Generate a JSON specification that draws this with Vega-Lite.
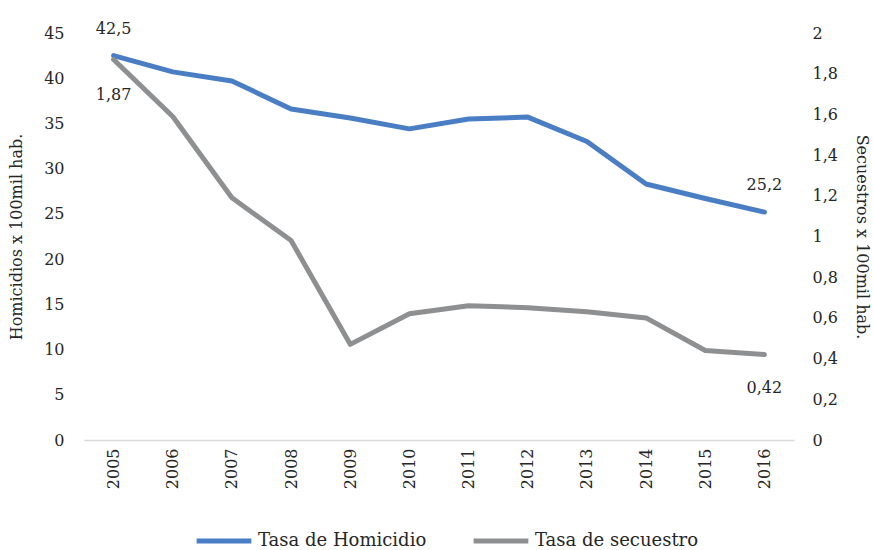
{
  "$schema": "https://vega.github.io/schema/vega-lite/v6.json",
  "width": 710,
  "height": 407,
  "autosize": "none",
  "padding": {"left": 84, "top": 33, "right": 79, "bottom": 110},
  "background": "white",
  "config": {
    "view": {"stroke": null},
    "locale": {"number": {"decimal": ",", "thousands": ".", "grouping": [3], "currency": ["", " €"]}},
    "font": "DejaVu Serif",
    "style": {"guide-label": {"font": "DejaVu Serif"}, "guide-title": {"font": "DejaVu Serif"}},
    "axis": {"labelFont": "DejaVu Serif", "titleFont": "DejaVu Serif", "labelColor": "#262626", "titleColor": "#262626", "labelFontSize": 16, "titleFontSize": 16, "titleFontWeight": "normal", "grid": false, "ticks": false},
    "legend": {"labelFont": "DejaVu Serif", "labelFontSize": 18, "labelColor": "#262626", "labelLimit": 300}
  },
  "data": {
    "values": [
      {"year": "2005", "homicidio": 42.5, "secuestro": 1.87},
      {"year": "2006", "homicidio": 40.7, "secuestro": 1.59},
      {"year": "2007", "homicidio": 39.7, "secuestro": 1.19},
      {"year": "2008", "homicidio": 36.6, "secuestro": 0.98},
      {"year": "2009", "homicidio": 35.6, "secuestro": 0.47},
      {"year": "2010", "homicidio": 34.4, "secuestro": 0.62},
      {"year": "2011", "homicidio": 35.5, "secuestro": 0.66},
      {"year": "2012", "homicidio": 35.7, "secuestro": 0.65},
      {"year": "2013", "homicidio": 33.0, "secuestro": 0.63},
      {"year": "2014", "homicidio": 28.3, "secuestro": 0.6},
      {"year": "2015", "homicidio": 26.7, "secuestro": 0.44},
      {"year": "2016", "homicidio": 25.2, "secuestro": 0.42}
    ]
  },
  "encoding": {
    "x": {
      "field": "year", "type": "ordinal",
      "scale": {"type": "point", "padding": 0.5},
      "axis": {"title": null, "labelAngle": -90, "labelPadding": 8, "domainColor": "#d9d9d9", "domainWidth": 1.5}
    }
  },
  "layer": [
    {
      "layer": [
        {
          "mark": {"type": "line", "strokeWidth": 5, "strokeCap": "round", "strokeJoin": "round"},
          "encoding": {
            "y": {"field": "homicidio", "type": "quantitative", "scale": {"domain": [0, 45]},
              "axis": {"title": "Homicidios x 100mil hab.", "values": [0,5,10,15,20,25,30,35,40,45], "domain": false, "labelPadding": 20, "titlePadding": 19}},
            "color": {"datum": "Tasa de Homicidio", "type": "nominal",
              "scale": {"domain": ["Tasa de Homicidio", "Tasa de secuestro"], "range": ["#4a7ec4", "#8e8f91"]},
              "legend": {"title": null, "orient": "none", "direction": "horizontal", "legendX": 110, "legendY": 478, "symbolType": "stroke", "symbolStrokeWidth": 5, "symbolSize": 3000, "labelOffset": 4, "columnPadding": 36, "labelFont": "DejaVu Serif", "labelFontSize": 18, "labelColor": "#262626", "labelLimit": 300}}
          }
        },
        {
          "transform": [{"filter": "datum.year == '2005'"}],
          "mark": {"type": "text", "dy": -27, "fontSize": 16, "color": "#262626", "font": "DejaVu Serif"},
          "encoding": {"y": {"field": "homicidio", "type": "quantitative"}, "text": {"field": "homicidio", "format": ".1f"}}
        },
        {
          "transform": [{"filter": "datum.year == '2016'"}],
          "mark": {"type": "text", "dy": -27, "fontSize": 16, "color": "#262626", "font": "DejaVu Serif"},
          "encoding": {"y": {"field": "homicidio", "type": "quantitative"}, "text": {"field": "homicidio", "format": ".1f"}}
        }
      ]
    },
    {
      "layer": [
        {
          "mark": {"type": "line", "strokeWidth": 5, "strokeCap": "round", "strokeJoin": "round"},
          "encoding": {
            "y": {"field": "secuestro", "type": "quantitative", "scale": {"domain": [0, 2]},
              "axis": {"orient": "right", "title": "Secuestros x 100mil hab.", "values": [0,0.2,0.4,0.6,0.8,1,1.2,1.4,1.6,1.8,2], "format": ".1~f", "domain": false, "labelPadding": 18, "titlePadding": 16}},
            "color": {"datum": "Tasa de secuestro", "type": "nominal",
              "legend": {"title": null, "orient": "none", "direction": "horizontal", "legendX": 110, "legendY": 478, "symbolType": "stroke", "symbolStrokeWidth": 5, "symbolSize": 3000, "labelOffset": 4, "columnPadding": 36, "labelFont": "DejaVu Serif", "labelFontSize": 18, "labelColor": "#262626", "labelLimit": 300}}
          }
        },
        {
          "transform": [{"filter": "datum.year == '2005'"}],
          "mark": {"type": "text", "dy": 36, "fontSize": 16, "color": "#262626", "font": "DejaVu Serif"},
          "encoding": {"y": {"field": "secuestro", "type": "quantitative"}, "text": {"field": "secuestro", "format": ".2f"}}
        },
        {
          "transform": [{"filter": "datum.year == '2016'"}],
          "mark": {"type": "text", "dy": 33, "fontSize": 16, "color": "#262626", "font": "DejaVu Serif"},
          "encoding": {"y": {"field": "secuestro", "type": "quantitative"}, "text": {"field": "secuestro", "format": ".2f"}}
        }
      ]
    }
  ],
  "resolve": {"scale": {"y": "independent", "color": "shared"}}
}
